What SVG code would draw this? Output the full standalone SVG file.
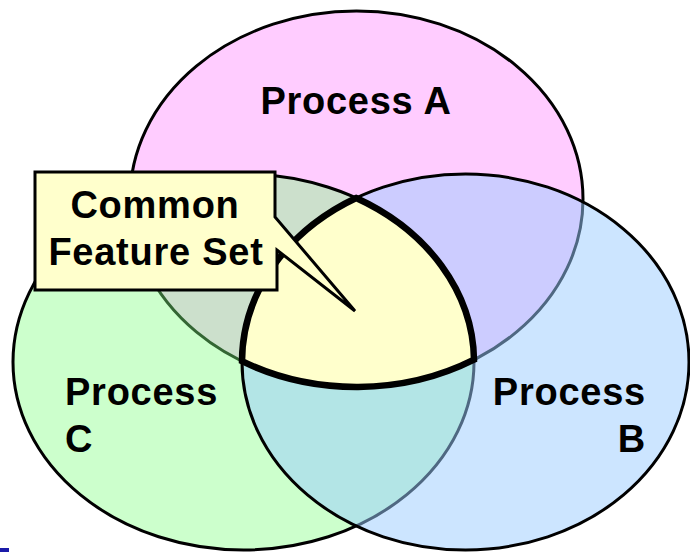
<svg xmlns="http://www.w3.org/2000/svg" width="690" height="552" viewBox="0 0 690 552">
  <style>
    .set { stroke: #000; stroke-width: 3; }
    .label { font-family: "Liberation Sans", Arial, sans-serif; font-weight: bold; font-size: 38px; letter-spacing: 0.75px; fill: #000; }
  </style>
  <rect width="690" height="552" fill="#fff"/>

  <!-- Process A: opaque base ellipse -->
  <g id="process-a">
    <ellipse class="set" cx="356.5" cy="199" rx="226.5" ry="188" fill="#FFCCFF"/>
  </g>

  <!-- Process C: translucent green laid over A -->
  <g id="process-c">
    <ellipse class="set" cx="243.5" cy="362" rx="230.5" ry="188" fill="rgb(127,255,127)" fill-opacity="0.4"/>
  </g>

  <!-- Process B: translucent blue laid over A and C -->
  <g id="process-b">
    <ellipse class="set" cx="465.5" cy="362" rx="223.5" ry="188" fill="rgb(155,204,255)" fill-opacity="0.51"/>
  </g>

  <!-- Intersection of all three sets -->
  <g id="common-region">
    <path d="M356.2,198 A230.5,188 0 0 1 474,359.7 A226.5,188 0 0 1 242,361.2 A223.5,188 0 0 1 356.2,198 Z"
          fill="#FFFFCC" stroke="#000" stroke-width="6.5" stroke-linejoin="miter"/>
  </g>

  <!-- Callout box with pointer into the common region -->
  <g id="callout">
    <path d="M35,172 H275 V217 L355,311 L277,250 V290 H35 Z"
          fill="#FFFFCC" stroke="#000" stroke-width="3" stroke-linejoin="miter"/>
    <text class="label" x="155" y="218" text-anchor="middle">Common</text>
    <text class="label" x="156" y="265" text-anchor="middle">Feature Set</text>
  </g>

  <g id="labels">
    <text class="label" x="356" y="114" text-anchor="middle">Process A</text>
    <text class="label" x="65" y="405">Process</text>
    <text class="label" x="65" y="452">C</text>
    <text class="label" x="646" y="405" text-anchor="end">Process</text>
    <text class="label" x="646" y="452" text-anchor="end">B</text>
  </g>

  <g id="connectors"/>

  <rect x="0" y="548" width="9" height="4" fill="#1a1aa8"/>
</svg>
